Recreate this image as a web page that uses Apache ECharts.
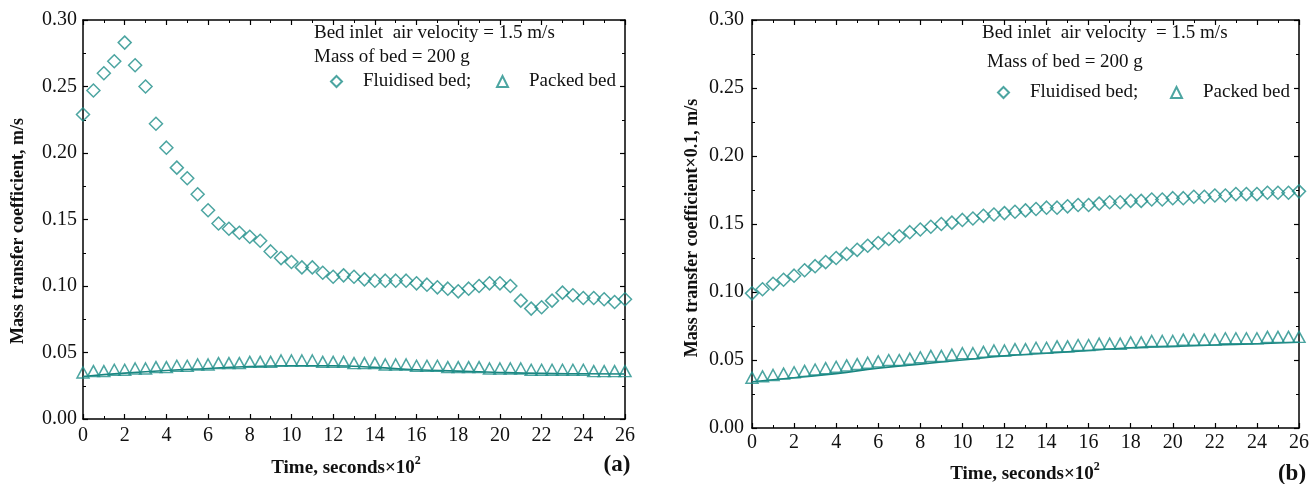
<!DOCTYPE html>
<html>
<head>
<meta charset="utf-8">
<script src="https://cdn.jsdelivr.net/npm/echarts@6/dist/echarts.min.js"></script>
<style>
html,body{margin:0;padding:0;background:#fff;}
#chart{width:1312px;height:484px;}
</style>
</head>
<body>
<div id="chart"></div>
<script>
// ---- data ----
const time = [0,0.5,1,1.5,2,2.5,3,3.5,4,4.5,5,5.5,6,6.5,7,7.5,8,8.5,9,9.5,10,10.5,11,11.5,12,12.5,13,13.5,14,14.5,15,15.5,16,16.5,17,17.5,18,18.5,19,19.5,20,20.5,21,21.5,22,22.5,23,23.5,24,24.5,25,25.5,26];
const fitTime = [0,2,4,6,8,10,12,14,16,18,20,22,24,26];

// (a) mass transfer coefficient, m/s
const fluidisedA = [0.229,0.247,0.260,0.269,0.283,0.266,0.250,0.222,0.204,0.189,0.181,0.169,0.157,0.147,0.143,0.140,0.137,0.134,0.126,0.121,0.118,0.114,0.114,0.110,0.107,0.108,0.107,0.105,0.104,0.104,0.104,0.104,0.102,0.101,0.099,0.098,0.096,0.098,0.100,0.102,0.102,0.100,0.089,0.083,0.084,0.089,0.095,0.093,0.091,0.091,0.090,0.088,0.090];
const packedA = [0.035,0.036,0.036,0.037,0.037,0.038,0.038,0.039,0.039,0.040,0.040,0.041,0.041,0.042,0.042,0.042,0.043,0.043,0.043,0.044,0.044,0.044,0.044,0.043,0.043,0.043,0.042,0.042,0.042,0.041,0.041,0.041,0.040,0.040,0.040,0.039,0.039,0.039,0.039,0.038,0.038,0.038,0.038,0.037,0.037,0.037,0.037,0.037,0.037,0.036,0.036,0.036,0.036];
const packedFitA = [0.032,0.0345,0.0365,0.038,0.0395,0.040,0.040,0.0388,0.037,0.036,0.035,0.0343,0.034,0.0338];

// (b) mass transfer coefficient x0.1, m/s
const fluidisedB = [0.099,0.102,0.106,0.109,0.112,0.116,0.119,0.122,0.125,0.128,0.131,0.134,0.136,0.139,0.141,0.144,0.146,0.148,0.150,0.151,0.153,0.154,0.156,0.157,0.158,0.159,0.160,0.161,0.162,0.162,0.163,0.164,0.164,0.165,0.166,0.166,0.167,0.167,0.168,0.168,0.169,0.169,0.170,0.170,0.171,0.171,0.172,0.172,0.172,0.173,0.173,0.173,0.174];
const packedB = [0.037,0.038,0.039,0.040,0.041,0.042,0.043,0.044,0.045,0.046,0.047,0.048,0.049,0.050,0.050,0.051,0.052,0.053,0.053,0.054,0.055,0.055,0.056,0.057,0.057,0.058,0.058,0.059,0.059,0.060,0.060,0.061,0.061,0.062,0.062,0.062,0.063,0.063,0.064,0.064,0.064,0.065,0.065,0.065,0.065,0.066,0.066,0.066,0.066,0.067,0.067,0.067,0.067];
const packedFitB = [0.034,0.037,0.040,0.044,0.047,0.050,0.053,0.055,0.057,0.059,0.060,0.061,0.062,0.063];

const yTicks = ['0.00','0.05','0.10','0.15','0.20','0.25','0.30'];
const xTicks = ['0','2','4','6','8','10','12','14','16','18','20','22','24','26'];
const annot1 = 'Bed inlet  air velocity = 1.5 m/s';
const annot1b = 'Bed inlet  air velocity  = 1.5 m/s';
const annot2 = 'Mass of bed = 200 g';
const nameFluid = 'Fluidised bed;';
const namePacked = 'Packed bed';

// ---- style ----
const TEAL = '#1f8f8a';
const SERIF = '"Liberation Serif", "Times New Roman", serif';
const pair = (xs, ys) => xs.map((x, i) => [x, ys[i]]);

function xAxes(gi, margin) {
  const base = {
    gridIndex: gi, type: 'value', min: 0, max: 26, interval: 2,
    axisLine: {show: true, onZero: false, lineStyle: {color: '#000', width: 1.5}},
    axisTick: {show: true, inside: true, length: 5, lineStyle: {color: '#000', width: 1.2}},
    minorTick: {show: true, splitNumber: 2, length: 3, lineStyle: {color: '#000', width: 1}},
    splitLine: {show: false}
  };
  return [
    Object.assign({}, base, {position: 'bottom',
      axisLabel: {show: true, margin, fontFamily: SERIF, fontSize: 20, color: '#111',
        formatter: v => xTicks[Math.round(v / 2)] }}),
    Object.assign({}, base, {position: 'top', axisLabel: {show: false}})
  ];
}
function yAxes(gi, margin) {
  const base = {
    gridIndex: gi, type: 'value', min: 0, max: 0.3, interval: 0.05,
    axisLine: {show: true, onZero: false, lineStyle: {color: '#000', width: 1.5}},
    axisTick: {show: true, inside: true, length: 5, lineStyle: {color: '#000', width: 1.2}},
    minorTick: {show: true, splitNumber: 2, length: 3, lineStyle: {color: '#000', width: 1}},
    splitLine: {show: false}
  };
  return [
    Object.assign({}, base, {position: 'left',
      axisLabel: {show: true, margin, fontFamily: SERIF, fontSize: 20, color: '#111',
        formatter: v => yTicks[Math.round(v / 0.05)] }}),
    Object.assign({}, base, {position: 'right', axisLabel: {show: false}})
  ];
}

const markStyle = {color: 'rgba(0,0,0,0)', borderColor: TEAL, borderWidth: 1.5};

function scatter(name, xi, yi, data, symbol, size) {
  return {name, type: 'scatter', xAxisIndex: xi, yAxisIndex: yi, data,
    symbol, symbolSize: size, itemStyle: markStyle, silent: true, z: 3,
    emphasis: {disabled: true}};
}
function fit(name, xi, yi, data) {
  return {name, type: 'line', xAxisIndex: xi, yAxisIndex: yi, data, smooth: true,
    symbol: 'none', lineStyle: {color: '#1a8580', width: 1.6}, silent: true, z: 2};
}

function legend(name, icon, left, top) {
  return {data: [{name, icon}], left, top, padding: 0, itemWidth: 11, itemHeight: 11,
    selectedMode: false,
    textStyle: {fontFamily: SERIF, fontSize: 19, color: '#111', padding: [0, 0, 0, 16]}};
}

function txt(text, x, y, opts) {
  return Object.assign({type: 'text', x, y, style: Object.assign({text, fill: '#111',
    font: '19px ' + SERIF, align: 'left', verticalAlign: 'middle'}, opts || {})});
}
function xTitle(x, y) {
  return {type: 'text', x, y, style: {text: '{a|Time, seconds×10}{s|2}', align: 'center', verticalAlign: 'middle',
    rich: {a: {font: 'bold 19px ' + SERIF, fill: '#111', lineHeight: 26},
           s: {font: 'bold 12px ' + SERIF, fill: '#111', verticalAlign: 'top', lineHeight: 12}}}};
}

const option = {
  backgroundColor: '#fff',
  animation: false,
  grid: [
    {left: 83, top: 20, width: 542, height: 399},
    {left: 752, top: 20, width: 550, height: 408}
  ],
  xAxis: [...xAxes(0, 7), ...xAxes(1, 5)],
  yAxis: [...yAxes(0, 6), ...yAxes(1, 8)],
  legend: [
    legend(nameFluid, 'diamond', 330, 72),
    legend(namePacked, 'triangle', 496, 72),
    legend(nameFluid, 'diamond', 997, 83),
    legend(namePacked, 'triangle', 1170, 83)
  ],
  series: [
    fit('fitA', 0, 0, pair(fitTime, packedFitA)),
    scatter(nameFluid, 0, 0, pair(time, fluidisedA), 'diamond', 13),
    scatter(namePacked, 0, 0, pair(time, packedA), 'triangle', [12, 11]),
    fit('fitB', 2, 2, pair(fitTime, packedFitB)),
    scatter(nameFluid, 2, 2, pair(time, fluidisedB), 'diamond', 13),
    scatter(namePacked, 2, 2, pair(time, packedB), 'triangle', [12, 11])
  ],
  graphic: [
    txt(annot1, 314, 33),
    txt(annot2, 314, 57),
    txt(annot1b, 982, 33),
    txt(annot2, 987, 62),
    Object.assign(txt('Mass transfer coefficient, m/s', 18, 231, {align: 'center', font: 'bold 18px ' + SERIF}), {rotation: Math.PI / 2}),
    Object.assign(txt('Mass transfer coefficient×0.1, m/s', 692, 228, {align: 'center', font: 'bold 18px ' + SERIF}), {rotation: Math.PI / 2}),
    xTitle(346, 468),
    xTitle(1025, 474),
    txt('(a)', 617, 465, {align: 'center', font: 'bold 23px ' + SERIF}),
    txt('(b)', 1292, 474, {align: 'center', font: 'bold 23px ' + SERIF})
  ]
};

const chart = echarts.init(document.getElementById('chart'), null, {renderer: 'canvas'});
chart.setOption(option);
</script>
</body>
</html>
